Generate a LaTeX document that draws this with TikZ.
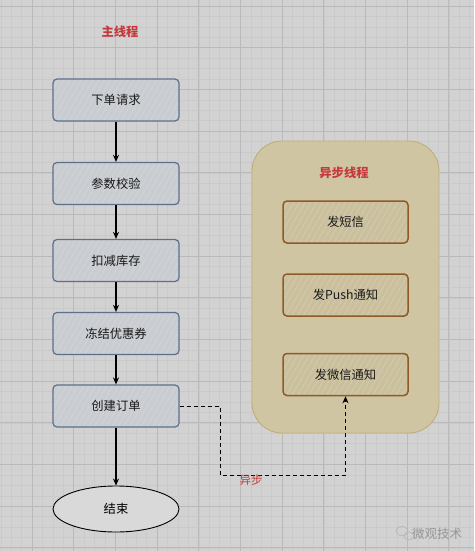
\documentclass[tikz,border=0pt]{standalone}
\usepackage{fontspec}
\setmainfont{Noto Sans CJK SC}
\usetikzlibrary{arrows.meta,positioning,patterns.meta,shapes.geometric}
\definecolor{paper}{RGB}{210,210,210}
\definecolor{gridlo}{RGB}{202,202,202}
\definecolor{gridhi}{RGB}{186,186,186}
\definecolor{slate}{RGB}{92,112,140}
\definecolor{mainfill}{RGB}{201,204,208}
\definecolor{hatchA}{RGB}{214,216,220}
\definecolor{lane}{RGB}{208,197,163}
\definecolor{laneedge}{RGB}{192,174,120}
\definecolor{brown}{RGB}{142,90,38}
\definecolor{asyncfill}{RGB}{203,192,158}
\definecolor{hatchB}{RGB}{216,206,178}
\definecolor{alert}{RGB}{196,58,60}
\definecolor{wmgray}{RGB}{150,150,150}
\tikzset{
  mainbox/.style={draw=slate,line width=1.2pt,rounded corners=4pt,
    preaction={fill=mainfill},
    preaction={pattern={Lines[angle=60,distance=5pt,line width=0.5pt]},pattern color=hatchA},
    minimum width=126pt,minimum height=42pt,
    font=\fontsize{12.3}{14}\selectfont,text=black!90},
  asyncbox/.style={draw=brown,line width=1.5pt,rounded corners=4pt,
    preaction={fill=asyncfill},
    preaction={pattern={Lines[angle=60,distance=5pt,line width=0.5pt]},pattern color=hatchB},
    minimum width=125pt,minimum height=42pt,
    font=\fontsize{12.3}{14}\selectfont,text=black!90},
  flow/.style={-{Stealth[length=7pt,width=6pt]},line width=1.1pt,black},
  title/.style={alert,font=\fontsize{12.3}{14}\selectfont\bfseries},
}
\begin{document}
\begin{tikzpicture}[x=1pt,y=-1pt]
  \useasboundingbox (0,0) rectangle (474,551);
  \fill[paper] (0,0) rectangle (474,551);
  % background grid
  \foreach \k in {-3,...,42}
    \draw[gridlo,line width=0.4pt] ({32+10.42*\k},0) -- ({32+10.42*\k},551);
  \foreach \k in {0,...,52}
    \draw[gridlo,line width=0.4pt] (0,{6+10.42*\k}) -- (474,{6+10.42*\k});
  \foreach \k in {0,...,10}
    \draw[gridhi,line width=0.8pt] ({32+41.68*\k},0) -- ({32+41.68*\k},551);
  \foreach \k in {0,...,13}
    \draw[gridhi,line width=0.8pt] (0,{6+41.68*\k}) -- (474,{6+41.68*\k});

  % main thread
  \node[title] (maintitle) at (120,32) {主线程};
  \node[mainbox] (xd) at (116,100) {下单请求};
  \node[mainbox] (cs) at (116,183.5) {参数校验};
  \node[mainbox] (kj) at (116,260.5) {扣减库存};
  \node[mainbox] (dj) at (116,333.5) {冻结优惠券};
  \node[mainbox] (cj) at (116,406) {创建订单};
  \node[draw=black,line width=0.9pt,fill=paper!85!white,ellipse,
        minimum width=126pt,minimum height=46pt,
        font=\fontsize{12.3}{14}\selectfont] (end) at (116,509) {结束};
  \draw[flow] (xd) -- (cs);
  \draw[flow] (cs) -- (kj);
  \draw[flow] (kj) -- (dj);
  \draw[flow] (dj) -- (cj);
  \draw[flow] (cj) -- (end);

  % async lane
  \draw[laneedge,fill=lane,line width=0.9pt,rounded corners=30pt] (252,141) rectangle (439,433);
  \node[title] (asynctitle) at (344,173) {异步线程};
  \node[asyncbox] (dx) at (345.5,222) {发短信};
  \node[asyncbox] (push) at (345.5,295) {发Push通知};
  \node[asyncbox] (wx) at (345.5,374.5) {发微信通知};

  % hand-off to the async lane
  \coordinate (turn) at (220,475);
  \draw[dash pattern=on 4pt off 3pt,line width=0.9pt,-{Stealth[length=7pt,width=6pt]}]
    (cj.east) -| (turn) -| (wx.south);
  \node[alert,font=\fontsize{11.5}{13}\selectfont] (yb) at (251,480) {异步};

  % watermark
  \draw[wmgray!70,line width=0.7pt] (402,531) ellipse (6pt and 4.5pt);
  \draw[wmgray!70,line width=0.7pt] (409,536) ellipse (5pt and 4pt);
  \node[wmgray,font=\fontsize{12.5}{14}\selectfont] (wm) at (437,534) {微观技术};
\end{tikzpicture}
\end{document}
